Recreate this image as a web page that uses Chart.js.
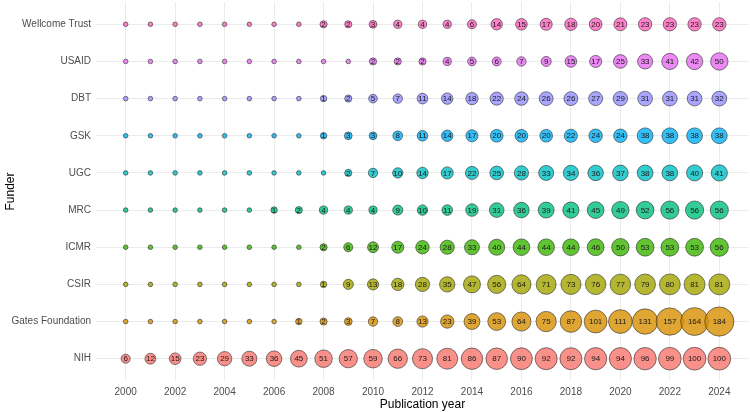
<!DOCTYPE html>
<html>
<head>
<meta charset="utf-8">
<script src="https://cdn.jsdelivr.net/npm/chart.js@4"></script>
<style>
  html, body { margin: 0; padding: 0; background: #fff; }
  #wrap { width: 750px; height: 412px; }
</style>
</head>
<body>
<div id="wrap"><canvas id="chart" width="750" height="412"></canvas></div>
<script>
// years on the x axis
const years = [2000, 2001, 2002, 2003, 2004, 2005, 2006, 2007, 2008, 2009, 2010, 2011, 2012,
               2013, 2014, 2015, 2016, 2017, 2018, 2019, 2020, 2021, 2022, 2023, 2024];
const year_ticks = [2000, 2002, 2004, 2006, 2008, 2010, 2012, 2014, 2016, 2018, 2020, 2022, 2024];

// funders, bottom row first
const funders = ["NIH", "Gates Foundation", "CSIR", "ICMR", "MRC", "UGC", "GSK", "DBT", "USAID", "Wellcome Trust"];

// publications per year, one list per funder
const nih      = [6, 12, 15, 23, 29, 33, 36, 45, 51, 57, 59, 66, 73, 81, 86, 87, 90, 92, 92, 94, 94, 96, 99, 100, 100];
const gates    = [0, 0, 0, 0, 0, 0, 0, 1, 2, 3, 7, 8, 13, 23, 39, 53, 64, 75, 87, 101, 111, 131, 157, 164, 184];
const csir     = [0, 0, 0, 0, 0, 0, 0, 0, 1, 9, 13, 18, 28, 35, 47, 56, 64, 71, 73, 76, 77, 79, 80, 81, 81];
const icmr     = [0, 0, 0, 0, 0, 0, 0, 0, 2, 6, 12, 17, 24, 28, 33, 40, 44, 44, 44, 46, 50, 53, 53, 53, 56];
const mrc      = [0, 0, 0, 0, 0, 0, 1, 2, 4, 4, 4, 9, 10, 11, 19, 31, 36, 39, 41, 45, 49, 52, 56, 56, 56];
const ugc      = [0, 0, 0, 0, 0, 0, 0, 0, 0, 2, 7, 10, 14, 17, 22, 25, 28, 33, 34, 36, 37, 38, 38, 40, 41];
const gsk      = [0, 0, 0, 0, 0, 0, 0, 0, 1, 3, 3, 8, 11, 14, 17, 20, 20, 20, 22, 24, 24, 38, 38, 38, 38];
const dbt      = [0, 0, 0, 0, 0, 0, 0, 0, 1, 2, 5, 7, 11, 14, 18, 22, 24, 26, 26, 27, 29, 31, 31, 31, 32];
const usaid    = [0, 0, 0, 0, 0, 0, 0, 0, 0, 0, 2, 2, 2, 4, 5, 6, 7, 9, 15, 17, 25, 33, 41, 42, 50];
const wellcome = [0, 0, 0, 0, 0, 0, 0, 0, 2, 2, 3, 4, 4, 4, 6, 14, 15, 17, 18, 20, 21, 23, 23, 23, 23];

const series = [nih, gates, csir, icmr, mrc, ugc, gsk, dbt, usaid, wellcome];

// ggplot hue palette, same order as funders
const colors = ["#F8766D", "#D89000", "#A3A500", "#39B600", "#00BF7D",
                "#00BFC4", "#00B0F6", "#9590FF", "#E76BF3", "#FF62BC"];

function withAlpha(hex, a){
    const n = parseInt(hex.slice(1), 16);
    return "rgba(" + (n >> 16) + "," + ((n >> 8) & 255) + "," + (n & 255) + "," + a + ")";
}

const max_value = Math.max(...series.map(s => Math.max(...s)));

function bubbleRadius(v){
    return 2.3 + 12.3 * Math.sqrt(v / max_value);
}

const datasets = funders.map(function(name, i){
    return {
        label: name,
        data: years.map((yr, j) => ({ x: yr, y: i, v: series[i][j] })),
        backgroundColor: withAlpha(colors[i], 0.8),
        borderColor: "rgba(40,40,40,0.85)",
        borderWidth: 0.7,
        radius: ctx => bubbleRadius(ctx.raw ? ctx.raw.v : 0),
        clip: false
    };
});

// numbers written inside the bubbles
const bubbleLabels = {
    id: "bubbleLabels",
    afterDatasetsDraw(chart){
        const ctx = chart.ctx;
        ctx.save();
        ctx.font = "8px 'Liberation Sans', Arial, sans-serif";
        ctx.fillStyle = "#1a1a1a";
        ctx.textAlign = "center";
        ctx.textBaseline = "middle";
        chart.data.datasets.forEach(function(ds, i){
            const meta = chart.getDatasetMeta(i);
            meta.data.forEach(function(pt, j){
                const v = ds.data[j].v;
                if(v > 0) ctx.fillText(String(v), pt.x, pt.y + 0.5);
            });
        });
        ctx.restore();
    }
};

const tick_font = { family: "'Liberation Sans', Arial, sans-serif", size: 10 };
const title_font = { family: "'Liberation Sans', Arial, sans-serif", size: 12 };

new Chart(document.getElementById("chart").getContext("2d"), {
    type: "bubble",
    data: { datasets: datasets },
    options: {
        responsive: false,
        animation: false,
        events: [],
        layout: { autoPadding: false, padding: { top: 2, right: 1, bottom: 0, left: 0 } },
        plugins: { legend: { display: false }, tooltip: { enabled: false } },
        scales: {
            x: {
                type: "linear",
                min: 1998.8,
                max: 2025.2,
                afterBuildTicks: function(axis){
                    axis.ticks = year_ticks.map(v => ({ value: v }));
                },
                afterFit: function(axis){
                    axis.height = 31;
                    axis.paddingLeft = 0;
                    axis.paddingRight = 0;
                },
                ticks: {
                    color: "#4d4d4d",
                    font: tick_font,
                    padding: 5,
                    maxRotation: 0,
                    callback: v => String(v)
                },
                grid: { color: "#ebebeb", lineWidth: 1, drawTicks: false },
                border: { display: false },
                title: {
                    display: true,
                    text: "Publication year",
                    color: "#000",
                    font: title_font,
                    padding: { top: 0, bottom: 0 }
                }
            },
            y: {
                type: "linear",
                min: -0.6,
                max: 9.6,
                afterBuildTicks: function(axis){
                    axis.ticks = funders.map((f, i) => ({ value: i }));
                },
                afterFit: function(axis){
                    axis.width = 96;
                    axis.paddingTop = 0;
                    axis.paddingBottom = 0;
                },
                ticks: {
                    color: "#4d4d4d",
                    font: tick_font,
                    padding: 5,
                    callback: v => funders[v]
                },
                grid: { color: "#ebebeb", lineWidth: 1, drawTicks: false },
                border: { display: false },
                title: {
                    display: true,
                    text: "Funder",
                    color: "#000",
                    font: title_font,
                    padding: { top: 3, bottom: 0 }
                }
            }
        }
    },
    plugins: [bubbleLabels]
});
</script>
</body>
</html>
